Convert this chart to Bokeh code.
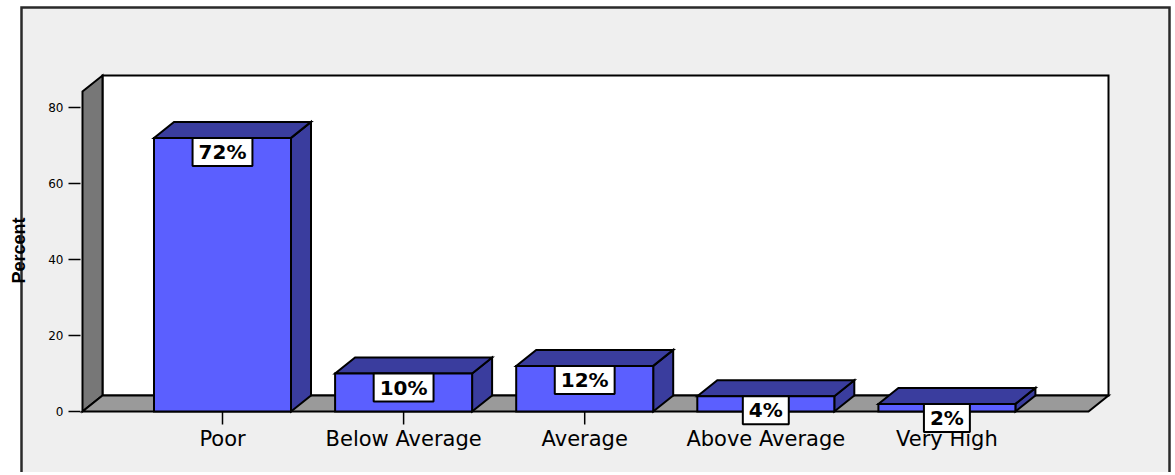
import math
from bokeh.plotting import figure
from bokeh.models import Range1d, Label
from bokeh.core.properties import value
from bokeh.embed import file_html
from bokeh.resources import INLINE

# ---- data ----
categories = ["Poor", "Below Average", "Average", "Above Average", "Very High"]
percent = [72, 10, 12, 4, 2]
y_ticks = [0, 20, 40, 60, 80]
y_title = "Percent"

# ---- geometry / style (pixel constants converted through the scales) ----
W, H = 1171, 472
PX_X = 181.1          # pixels per category step
PX_Y = 3.8            # pixels per percent
CX0 = 222             # pixel x of first category
CY0 = 411             # pixel y of 0 %


def px(xp):
    return (xp - CX0) / PX_X


def py(yp):
    return (CY0 - yp) / PX_Y


DX = 20 / PX_X        # 3D depth offset (x)
DV = 16 / PX_Y        # 3D depth offset (y)
BAR_W = 137 / PX_X
X0, X1 = px(82), px(1088)      # front floor edges
TOP = py(91)                   # front top of walls

FRONT = "#5B5FFF"
DARK = "#3A3D9E"
WALL = "#777777"
FLOOR = "#9A9A9A"
BG = "#EFEFEF"
FONT = "DejaVu Sans"

p = figure(width=W, height=H, output_backend="svg", toolbar_location=None,
           x_range=Range1d(px(0), px(W)), y_range=Range1d(py(H), py(0)),
           min_border=0)
p.title.visible = False
p.axis.visible = False
p.grid.visible = False
p.outline_line_color = None
p.background_fill_color = "white"
p.border_fill_color = "white"

# outer frame box
p.quad(left=[px(21)], right=[px(1169)], top=[py(7)], bottom=[py(H + 20)],
       fill_color=BG, line_color="#2A2A2A", line_width=2.5, line_join="miter")

# walls and floor
p.quad(left=[X0 + DX], right=[X1 + DX], bottom=[DV], top=[TOP + DV],
       fill_color="white", line_color="black", line_width=2, line_join="miter")
p.patch([X0, X0, X0 + DX, X0 + DX], [0, TOP, TOP + DV, DV],
        fill_color=WALL, line_color="black", line_width=2, line_join="miter")
p.patch([X0, X1, X1 + DX, X0 + DX], [0, 0, DV, DV],
        fill_color=FLOOR, line_color="black", line_width=2, line_join="miter")

# bars
xs = list(range(len(categories)))
lefts = [x - BAR_W / 2 for x in xs]
rights = [x + BAR_W / 2 for x in xs]
tops_x = [[l, r, r + DX, l + DX] for l, r in zip(lefts, rights)]
tops_y = [[v, v, v + DV, v + DV] for v in percent]
side_x = [[r, r, r + DX, r + DX] for r in rights]
side_y = [[0, v, v + DV, DV] for v in percent]
p.patches(side_x, side_y, fill_color=DARK, line_color="black", line_width=2, line_join="miter")
p.patches(tops_x, tops_y, fill_color=DARK, line_color="black", line_width=2, line_join="miter")
p.quad(left=lefts, right=rights, bottom=0, top=percent,
       fill_color=FRONT, line_color="black", line_width=2, line_join="miter")

# y axis: ticks, labels, title
p.segment(x0=[px(68)] * len(y_ticks), x1=[px(80)] * len(y_ticks), y0=y_ticks, y1=y_ticks,
          line_color="black", line_width=1.5)
p.text(x=[px(63)] * len(y_ticks), y=y_ticks, text=[str(t) for t in y_ticks],
       text_align="right", text_baseline="middle", text_font=value(FONT),
       text_font_size="12px", text_color="black")
p.text(x=[px(18)], y=[py(250)], text=[y_title], angle=math.pi / 2,
       text_align="center", text_baseline="middle", text_font=value("Liberation Sans"),
       text_font_style="bold", text_font_size="18px", text_color="black")

# x axis: ticks and category labels
p.segment(x0=xs, x1=xs, y0=[0] * len(xs), y1=[py(424)] * len(xs),
          line_color="black", line_width=1.5)
p.text(x=xs, y=[py(438)] * len(xs), text=categories,
       text_align="center", text_baseline="middle", text_font=value(FONT),
       text_font_size="21px", text_color="black")

# value labels
for x, v in zip(xs, percent):
    p.add_layout(Label(x=x, y=v, text=f"{v}%", text_align="center", text_baseline="top",
                       text_font=FONT, text_font_style="bold", text_font_size="20px",
                       text_color="black", background_fill_color="white",
                       border_line_color="black", border_line_width=2,
                       padding=(6, 2)))

open("out.html", "w").write(file_html(p, INLINE))
